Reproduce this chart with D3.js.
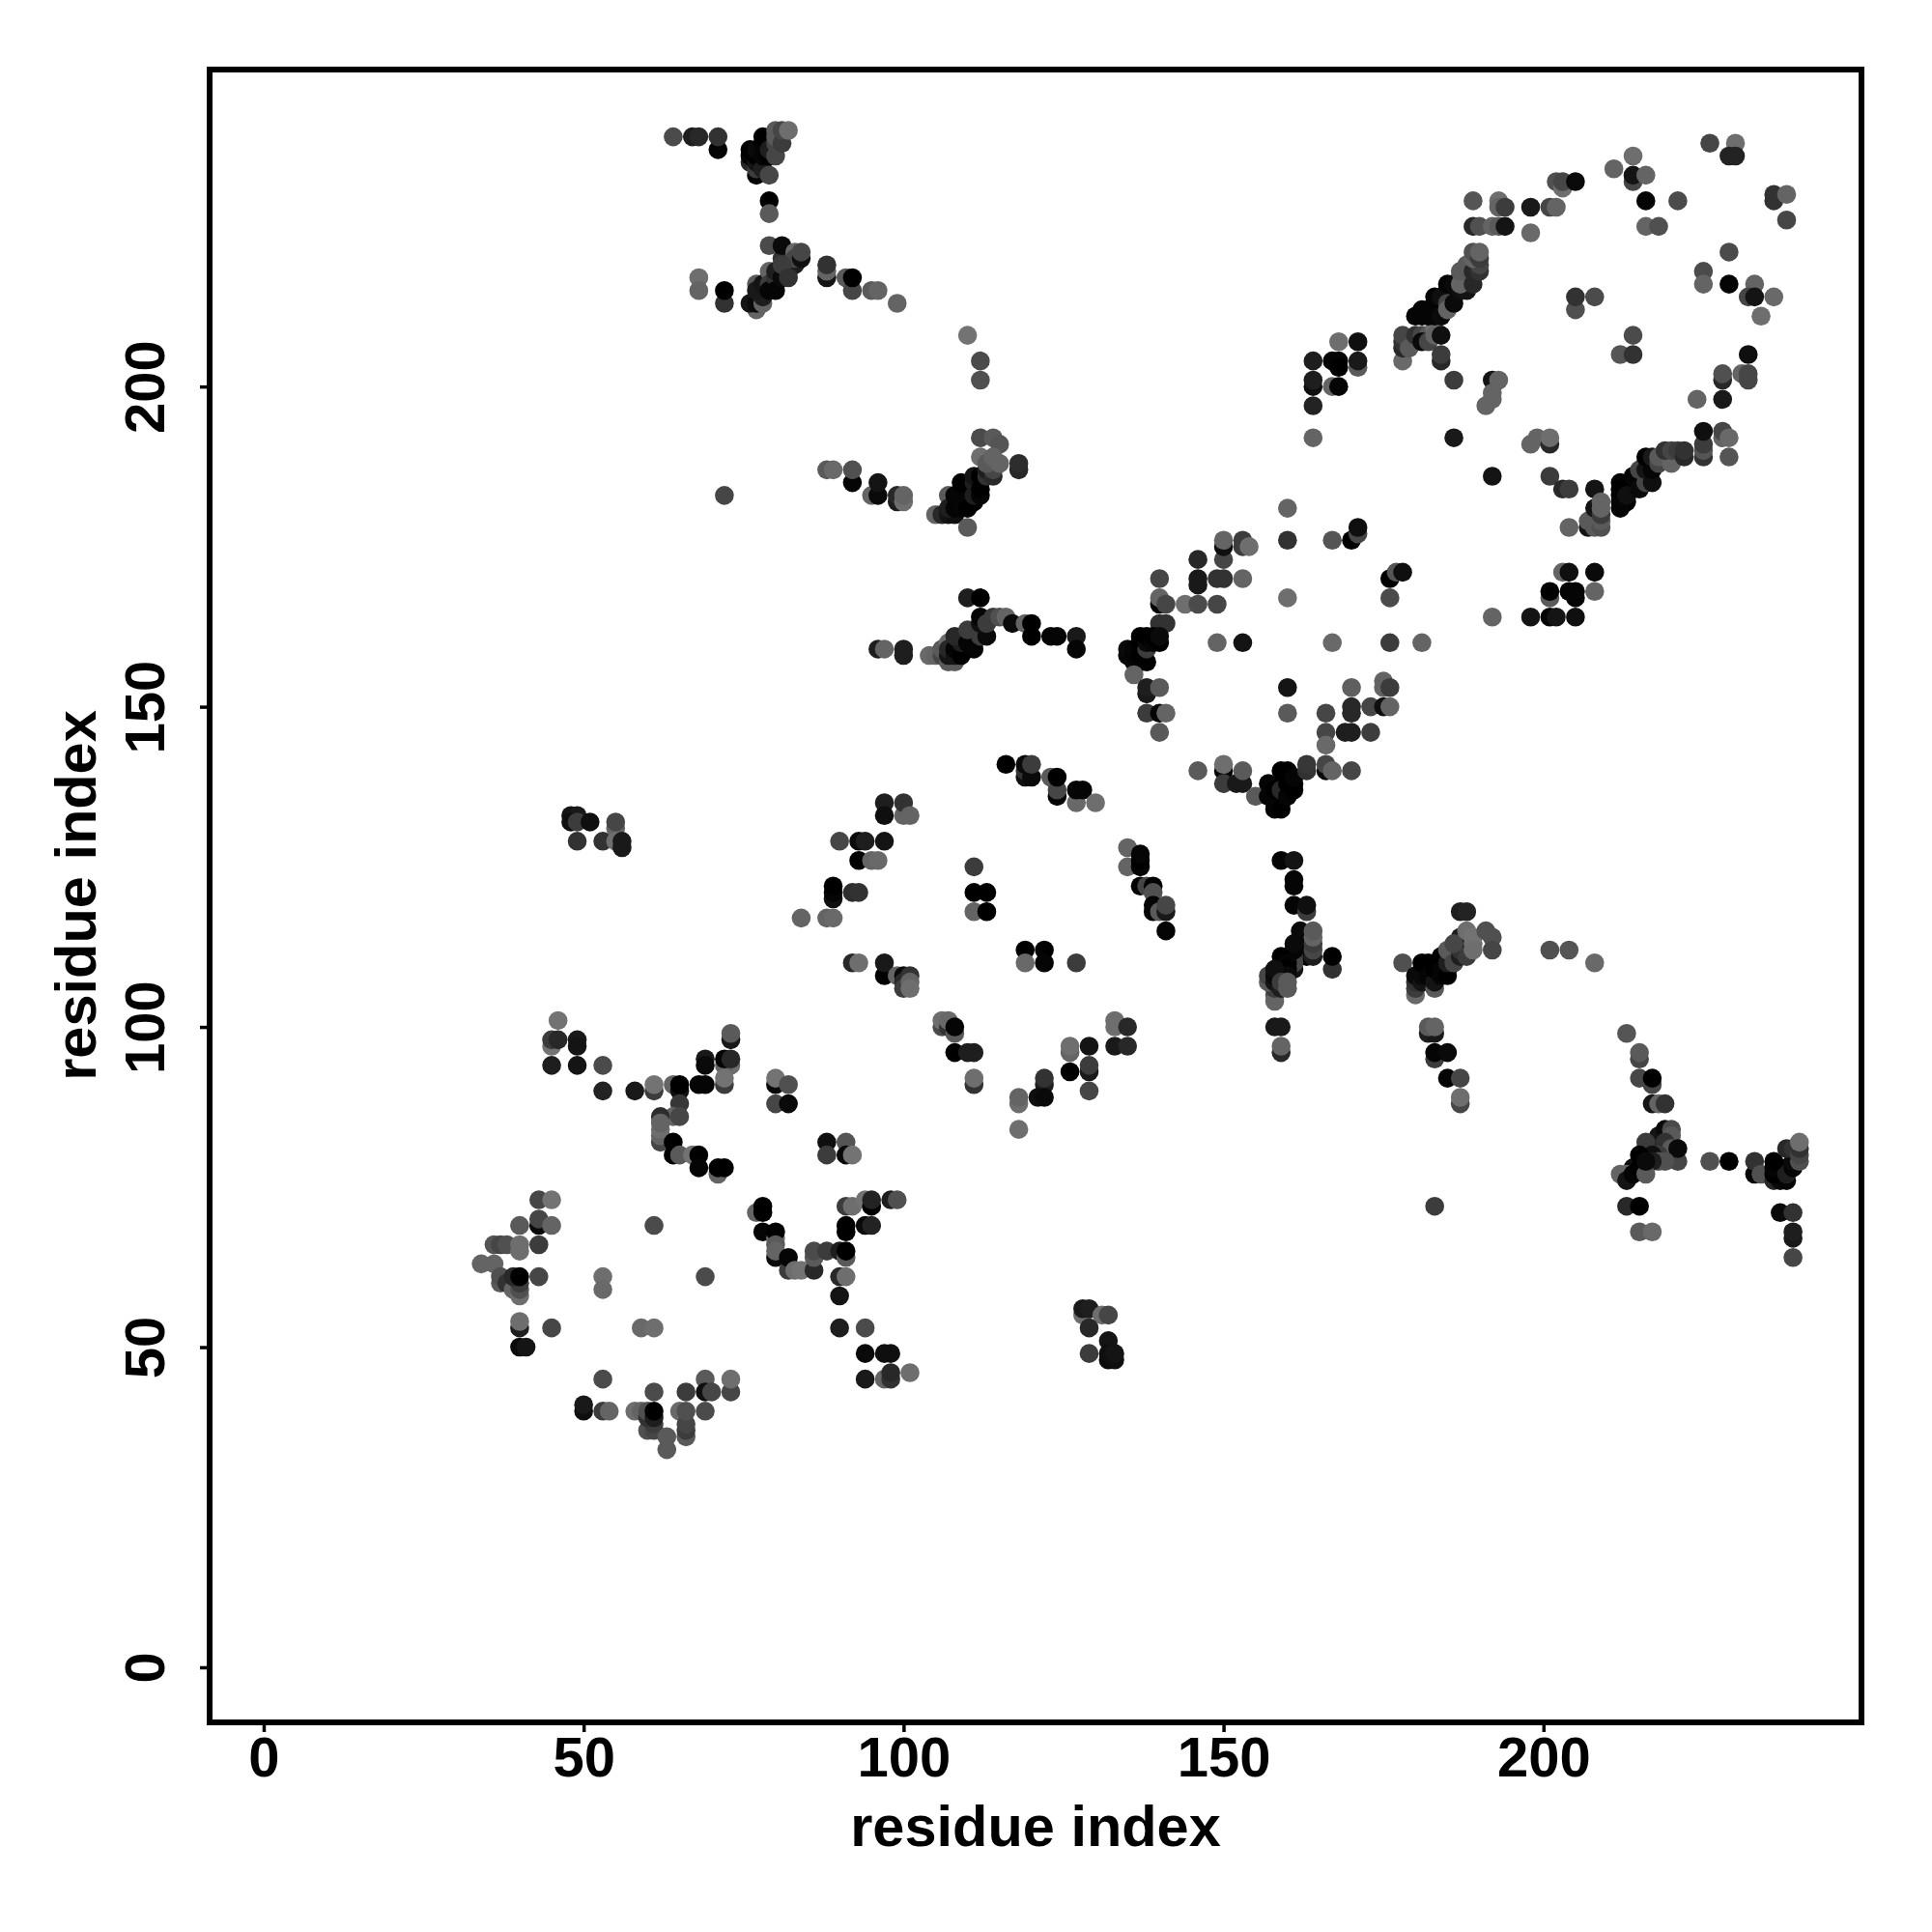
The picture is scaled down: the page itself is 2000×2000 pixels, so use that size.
<!DOCTYPE html>
<html><head><meta charset="utf-8">
<script src="https://cdn.jsdelivr.net/npm/d3@7"></script>
<style>html,body{margin:0;padding:0;background:#fff}svg{display:block}</style>
</head><body><svg id="c" width="2000" height="2000"></svg>
<script>
// each entry: [residue x, residue y, grey level]
const sheetLowLeft = [[46,101,115],[45,97,115],[45,98,60],[46,98,40],[49,98,25],[49,97,20],[45,94,30],[49,94,20],[53,94,75],[53,90,35],[58,90,25],[61,90,60],[61,91,115],[64,91,100],[65,90,15],[65,91,0],[68,91,5],[69,91,5],[65,88,55],[64,86,100],[65,86,70],[62,86,45],[62,82,70],[62,83,100],[62,84,110],[62,85,100],[64,80,0],[64,82,0],[65,80,90],[67,80,115],[68,80,0],[68,78,5],[71,77,100],[71,78,0],[72,78,0],[69,95,25],[69,94,10],[73,94,110],[72,94,100],[72,95,5],[73,95,40],[73,98,25],[73,99,90],[72,91,60],[72,92,115],[80,91,10],[80,92,115],[82,91,80],[80,88,70],[82,88,10],[88,82,15],[91,82,85],[88,80,60],[91,80,10],[92,80,115]];
const hairpinLow = [[77,71,100],[78,72,0],[78,71,0],[78,68,5],[80,67,110],[80,68,0],[80,64,10],[80,66,90],[80,65,100],[82,62,60],[82,64,5],[83,62,110],[84,62,115],[86,62,40],[86,64,90],[86,65,75],[88,65,60],[90,65,30],[91,64,90],[91,65,0],[90,61,40],[91,61,110],[90,58,20],[91,69,0],[91,68,0],[94,69,10],[95,69,35],[91,72,60],[92,72,110],[94,73,115],[95,72,0],[95,73,35],[98,73,30],[99,73,80]];
const leftPatch = [[43,73,70],[45,73,115],[40,69,90],[43,69,10],[43,70,70],[45,69,100],[36,66,85],[37,66,70],[38,66,80],[40,65,110],[40,66,110],[43,66,60],[34,63,100],[36,63,100],[37,60,90],[37,61,80],[38,60,50],[39,59,100],[40,58,110],[40,59,80],[40,60,60],[39,61,40],[40,61,0],[43,61,70],[40,53,30],[40,54,110],[45,53,70],[40,50,10],[41,50,20],[53,61,110],[53,59,105],[61,69,75],[69,61,75],[59,53,105],[61,53,110],[90,53,30],[94,53,75],[94,49,10],[97,49,15],[98,49,15],[94,45,25],[97,45,100],[98,45,50],[98,46,40],[101,46,110]];
const bottomPatch = [[53,45,75],[61,43,75],[66,43,60],[69,45,90],[69,43,15],[70,43,70],[73,43,70],[73,45,110],[50,40,15],[50,41,25],[53,40,60],[54,40,100],[58,40,110],[59,40,100],[60,37,80],[61,37,70],[61,38,60],[60,39,50],[60,40,80],[61,39,30],[61,40,0],[63,36,90],[63,34,90],[65,40,105],[66,36,90],[66,37,60],[66,38,70],[66,40,80],[69,40,75]];
const topLeftArm = [[64,239,75],[67,239,30],[68,239,40],[71,237,5],[71,239,50],[76,235,40],[76,236,5],[76,237,0],[77,233,5],[77,234,60],[77,235,20],[77,236,0],[77,237,10],[78,234,30],[78,236,5],[78,238,5],[78,239,0],[79,233,70],[79,236,0],[79,237,30],[80,236,70],[80,238,70],[80,239,90],[80,240,90],[81,238,60],[81,240,70],[82,240,110],[79,229,0],[79,227,90]];
const topLeftDiag = [[78,215,5],[79,217,10],[80,216,0],[81,218,20],[82,219,40],[83,219,30],[82,220,40],[81,220,50],[82,218,30],[79,222,75],[81,222,10],[83,221,105],[83,220,70],[84,220,15],[84,221,70],[77,212,100],[76,213,20],[77,213,10],[78,213,100],[78,214,30],[77,216,90],[77,215,25],[78,216,20],[79,218,100],[79,216,60],[79,215,5],[80,217,50],[80,218,30],[80,215,5],[81,217,10],[81,219,60],[82,217,50],[68,217,110],[68,215,100],[72,213,50],[72,215,0],[88,217,20],[88,218,100],[88,219,50],[91,217,90],[92,215,70],[92,217,0],[95,215,90],[96,215,100],[99,213,100],[110,208,115],[112,204,75],[112,201,80]];
const midUpper = [[109,183,0],[110,183,0],[110,184,0],[110,182,5],[109,182,5],[111,184,0],[111,182,0],[112,185,0],[72,183,70],[88,187,90],[89,187,105],[92,185,5],[92,187,80],[95,183,100],[96,183,10],[96,185,20],[99,182,30],[99,183,40],[100,182,110],[100,183,100],[105,180,100],[106,180,40],[107,180,20],[108,180,15],[110,178,90],[107,183,90],[108,182,60],[107,181,30],[108,181,5],[108,183,5],[109,181,5],[109,185,0],[110,181,0],[111,183,30],[111,185,30],[111,186,20],[112,183,5],[112,184,0],[112,186,0],[113,186,50],[113,187,30],[114,186,40],[114,187,70],[112,192,75],[114,192,90],[115,191,85],[112,189,110],[113,188,90],[114,189,100],[115,188,100],[118,187,40],[118,188,45]];
const midStrand = [[110,161,0],[111,160,0],[109,159,0],[110,159,0],[111,161,5],[96,159,30],[97,159,100],[100,158,30],[100,159,30],[104,158,105],[105,158,100],[106,158,70],[107,157,90],[108,157,90],[106,159,90],[107,160,110],[107,158,20],[107,159,40],[108,158,20],[108,159,5],[109,158,0],[109,160,30],[108,161,40],[110,160,5],[110,162,60],[111,159,5],[112,161,60],[113,161,10],[112,163,15],[112,164,5],[113,163,60],[114,164,60],[115,164,80],[116,164,100],[117,163,10],[119,163,100],[120,163,0],[120,161,0],[123,161,5],[124,161,5],[127,161,25],[127,159,5],[110,167,30],[112,167,0]];
const midCentre = [[116,141,0],[119,139,15],[119,140,50],[119,141,10],[120,139,10],[120,141,60],[123,139,90],[124,136,5],[124,137,70],[124,139,0],[127,135,105],[127,137,5],[128,137,5],[130,135,110],[97,135,30],[97,133,15],[100,133,100],[100,135,50],[101,133,100],[90,129,70],[93,129,10],[94,129,30],[97,129,20],[93,126,0],[95,126,100],[96,126,105],[89,120,15],[89,121,5],[89,122,0],[92,121,45],[93,121,50],[84,117,100],[88,117,100],[89,117,105],[111,125,60],[111,118,100],[111,121,0],[113,121,0],[113,118,0],[119,112,0],[122,112,0],[119,110,105],[122,110,5],[127,110,60]];
const midRight = [[135,128,100],[135,125,100],[137,125,5],[137,126,0],[137,127,5],[137,122,5],[138,122,70],[139,122,0],[139,121,80],[139,118,5],[139,119,5],[140,118,90],[141,118,25],[141,119,70],[141,115,5]];
const midLower = [[92,110,40],[93,110,110],[97,108,0],[97,110,25],[99,108,100],[100,108,10],[100,107,40],[100,106,60],[101,108,50],[101,107,100],[101,106,110],[106,100,75],[106,101,110],[107,100,50],[107,101,105],[108,99,90],[108,100,5],[108,96,0],[110,96,30],[111,96,30],[111,91,50],[111,92,110],[118,88,110],[118,89,100],[118,84,110],[122,91,30],[122,92,50],[121,89,15],[122,89,10],[126,96,100],[126,97,110],[126,93,0],[129,97,20],[129,93,25],[129,94,60],[129,90,70],[133,100,110],[133,101,110],[135,100,40],[133,97,25],[135,97,40]];
const lowerSmall = [[128,55,110],[128,56,25],[129,56,30],[131,55,110],[132,55,70],[129,53,40],[132,51,20],[129,49,60],[132,48,10],[132,49,15],[133,48,15],[133,49,20]];
const ringLeft = [[140,170,70],[140,166,5],[140,167,100],[141,166,70],[144,166,110],[146,166,75],[149,166,70],[146,173,40],[146,169,25],[146,170,25],[149,170,50],[150,170,50],[153,170,100],[150,173,70],[150,175,15],[150,176,100],[153,175,60],[153,176,60],[154,175,110],[140,163,50],[141,163,50],[135,158,5],[135,159,10],[136,157,10],[136,158,5],[136,159,5],[137,157,5],[137,158,0],[137,160,0],[137,161,0],[138,157,0],[138,159,60],[138,160,10],[138,161,0],[139,160,5],[139,161,0],[140,160,0],[140,161,10],[136,155,100],[138,152,25],[138,153,30],[140,153,90],[138,149,60],[140,149,5],[141,149,100],[140,146,90]];
const ringRest = [[160,181,100],[160,176,50],[167,176,85],[170,176,0],[171,177,70],[171,178,15],[176,170,0],[177,171,85],[178,171,15],[176,167,75],[160,167,110],[149,160,100],[153,160,20],[167,160,105],[176,160,60],[181,160,100],[160,153,20],[160,149,90],[170,153,95],[175,154,100],[175,153,100],[176,153,60],[166,149,70],[170,149,40],[170,150,40],[173,150,70],[175,150,15],[176,150,100],[166,146,70],[169,146,30],[170,146,30],[173,146,60],[166,144,105]];
const ringBottom = [[158,136,0],[159,135,0],[159,136,5],[160,137,5],[161,138,0],[160,139,0],[159,138,0],[146,140,90],[150,140,5],[150,141,110],[150,138,60],[152,138,25],[153,138,25],[153,140,90],[155,136,90],[157,136,5],[157,138,5],[158,134,5],[158,135,5],[158,137,0],[159,134,0],[159,137,40],[160,136,5],[160,138,0],[161,137,0],[159,140,0],[160,140,0],[161,139,5],[163,140,50],[163,141,55],[166,140,10],[166,141,70],[167,140,100],[170,140,70]];
const columnAt160 = [[159,126,5],[161,126,20],[161,122,5],[161,123,5],[161,119,5],[163,118,60],[163,119,15],[162,112,5],[162,114,5],[162,115,10],[163,111,5],[163,112,10],[164,111,30],[164,112,70],[164,113,60],[164,114,100],[164,115,90],[161,109,20],[161,111,50],[161,110,70],[161,112,5],[161,113,10],[159,111,0],[159,109,0],[160,110,5],[160,109,0],[160,108,10],[158,105,80],[158,104,100],[158,106,60],[157,107,90],[157,108,70],[158,107,20],[158,108,10],[158,109,15],[159,106,30],[159,107,60],[160,106,90],[160,107,90],[167,109,50],[167,111,0],[158,100,25],[159,100,25],[159,96,40],[159,97,100]];
const columnAt185 = [[182,109,5],[183,108,0],[184,110,0],[185,109,0],[182,110,0],[178,110,80],[180,105,105],[180,106,60],[180,107,50],[180,108,10],[181,107,20],[181,108,10],[181,110,0],[182,108,5],[183,106,90],[183,107,20],[183,109,0],[184,108,5],[184,109,5],[184,111,0],[185,108,0],[185,110,30],[185,112,90],[186,110,70],[187,111,30],[187,112,50],[187,113,20],[187,114,30],[186,113,70],[188,111,60],[187,118,30],[188,118,35],[188,115,110],[189,113,110],[189,114,115],[189,112,110],[191,115,80],[192,114,80],[192,112,70],[182,99,30],[183,99,25],[182,100,90],[183,100,100],[183,95,60],[183,96,5],[185,96,10],[185,92,5],[187,92,70],[187,88,70],[187,89,110],[183,72,60],[201,112,80],[204,112,85],[208,110,105]];
const rightPatch = [[214,78,10],[215,79,20],[216,80,20],[217,81,50],[218,81,70],[218,82,60],[219,83,50],[219,81,70],[218,83,20],[213,99,85],[215,95,70],[215,96,90],[215,92,70],[217,91,70],[217,92,0],[217,88,20],[218,88,100],[219,88,50],[219,84,10],[220,84,75],[220,83,90],[219,82,50],[220,81,90],[221,79,70],[221,81,10],[218,80,60],[216,81,50],[216,82,60],[217,80,15],[218,79,80],[219,79,80],[217,79,30],[215,80,0],[212,77,100],[213,77,100],[213,76,20],[214,77,5],[215,78,0],[216,77,90],[216,79,10],[226,79,80],[229,79,0],[213,72,40],[215,72,0],[215,68,90],[217,68,105]];
const rightEnd = [[233,77,5],[233,79,50],[234,77,80],[236,76,40],[237,76,10],[238,76,5],[236,77,0],[236,78,5],[237,78,5],[238,77,30],[236,79,0],[239,78,5],[239,79,10],[238,81,40],[239,81,50],[240,79,80],[240,80,70],[240,81,50],[240,82,110],[237,71,10],[239,71,50],[239,67,25],[239,68,30],[239,64,70]];
const upperRing = [[226,238,70],[230,238,110],[229,236,35],[230,236,35],[214,236,110],[211,234,100],[214,232,70],[214,233,20],[216,233,100],[216,229,5],[221,229,75],[216,225,100],[218,225,80],[202,232,80],[203,231,110],[203,232,70],[205,232,10],[198,228,25],[201,228,70],[202,228,100],[198,224,105],[189,229,85],[193,229,110],[193,228,100],[194,228,60],[189,225,40],[190,225,80],[192,225,100],[193,225,90],[194,225,20],[236,229,50],[236,230,50],[238,230,100],[238,226,70],[229,221,75],[225,218,75],[225,216,100],[229,216,5],[233,216,100],[232,214,70],[233,214,20],[236,214,105],[234,211,110],[205,212,80],[205,214,50],[208,214,75],[214,208,75],[212,205,85],[214,205,50],[232,205,15],[228,201,40],[228,202,80],[228,198,25],[224,198,100],[231,202,100],[232,201,70],[232,202,70]];
const upperDiag = [[181,211,0],[182,212,0],[183,212,0],[184,213,0],[185,214,0],[185,215,5],[186,215,5],[186,214,0],[184,212,0],[178,204,105],[178,206,40],[178,207,50],[178,208,70],[179,206,90],[180,208,50],[181,208,70],[182,208,90],[183,209,110],[181,207,10],[182,207,70],[183,208,100],[184,208,15],[184,204,40],[184,205,60],[186,201,60],[180,211,5],[181,212,5],[182,211,5],[183,211,5],[184,211,10],[183,214,5],[184,214,15],[185,213,70],[185,212,100],[185,216,5],[186,213,10],[186,216,10],[187,215,15],[187,217,20],[188,215,20],[187,216,100],[187,218,90],[188,219,90],[189,216,40],[189,218,40],[190,218,50],[190,219,70],[189,220,100],[189,221,80],[190,220,60],[190,221,100]];
const blockAt165 = [[168,207,110],[171,207,15],[164,204,30],[167,204,5],[168,204,5],[168,203,0],[171,203,90],[171,204,25],[164,200,15],[164,201,30],[167,200,100],[168,200,5],[164,197,35],[164,192,100],[186,192,25],[192,186,20],[201,186,60],[192,201,20],[193,201,100],[192,199,100],[192,198,100],[191,197,100]];
const lowerRing = [[212,183,0],[213,184,0],[213,182,0],[214,185,0],[214,184,0],[215,185,5],[215,186,5],[216,186,5],[216,188,5],[217,188,15],[212,185,5],[198,191,100],[199,192,100],[201,191,40],[201,192,110],[203,184,40],[204,184,60],[208,184,20],[204,178,100],[207,178,20],[207,179,90],[208,178,90],[208,181,20],[209,178,80],[209,179,90],[209,180,60],[209,181,100],[209,182,100],[212,181,5],[212,182,5],[212,184,0],[213,183,15],[214,186,5],[215,184,10],[215,187,70],[216,185,70],[216,187,20],[216,189,0],[217,185,15],[217,187,5],[217,189,25],[218,188,70],[218,189,90],[220,188,100],[219,190,50],[220,190,70],[221,190,60],[222,189,40],[222,190,50],[225,189,50],[225,190,85],[225,191,60],[225,193,15],[228,192,100],[228,193,70],[229,192,105],[229,189,85]];
const blockAt203 = [[203,171,100],[204,171,15],[208,171,10],[201,167,90],[201,168,0],[204,168,5],[205,167,5],[205,168,5],[208,168,100],[192,164,100],[198,164,20],[201,164,5],[202,164,20],[205,164,15]];
const sheetAt50 = [[48,133,20],[49,133,25],[48,132,15],[49,132,60],[51,132,15],[49,129,50],[53,129,50],[55,131,100],[55,132,70],[55,129,110],[56,129,25],[56,128,25]];
const tickValues = [0, 50, 100, 150, 200];
const axisLabel = "residue index";
const xDomain = [-8.45, 249.7], yDomain = [-8.6, 249.5];

const clusters = [sheetLowLeft, hairpinLow, leftPatch, bottomPatch, topLeftArm, topLeftDiag, midUpper, midStrand, midCentre, midRight, midLower, lowerSmall, ringLeft, ringRest, ringBottom, columnAt160, columnAt185, rightPatch, rightEnd, upperRing, upperDiag, blockAt165, lowerRing, blockAt203, sheetAt50];
const points = clusters.flat();

const plot = {left: 217, right: 1927, top: 72, bottom: 1783};
const x = d3.scaleLinear().domain(xDomain).range([plot.left, plot.right]);
const y = d3.scaleLinear().domain(yDomain).range([plot.bottom, plot.top]);
const svg = d3.select("#c");
const font = "'Liberation Sans', Arial, sans-serif";

svg.append("g").selectAll("circle").data(points).join("circle")
  .attr("cx", d => x(d[0])).attr("cy", d => y(d[1])).attr("r", 9.8)
  .attr("fill", d => d3.rgb(d[2], d[2], d[2]));

svg.append("rect").attr("x", plot.left).attr("y", plot.top).attr("width", plot.right - plot.left).attr("height", plot.bottom - plot.top)
  .attr("fill", "none").attr("stroke", "#000").attr("stroke-width", 6);

const gx = svg.append("g").attr("transform", `translate(0,${plot.bottom})`)
  .call(d3.axisBottom(x).tickValues(tickValues).tickSize(10).tickPadding(5).tickFormat(d3.format("d")));
const gy = svg.append("g").attr("transform", `translate(${plot.left},0)`)
  .call(d3.axisLeft(y).tickValues(tickValues).tickSize(10).tickFormat(d3.format("d")));
[gx, gy].forEach(g => { g.select(".domain").remove(); g.selectAll("line").attr("stroke", "#000").attr("stroke-width", 3.5); });
gx.selectAll("text").attr("font-family", font).attr("font-weight", 700).attr("font-size", 58).attr("fill", "#000");
gy.selectAll("text").attr("font-family", font).attr("font-weight", 700).attr("font-size", 58).attr("fill", "#000")
  .attr("text-anchor", "middle").attr("dy", 0).attr("x", 0)
  .attr("transform", `translate(${170 - plot.left},0) rotate(-90)`);

svg.append("text").attr("x", 1072).attr("y", 1911).attr("text-anchor", "middle")
  .attr("font-family", font).attr("font-weight", 700).attr("font-size", 59.5).text(axisLabel);
svg.append("text").attr("transform", "translate(99,927) rotate(-90)").attr("text-anchor", "middle")
  .attr("font-family", font).attr("font-weight", 700).attr("font-size", 59.5).text(axisLabel);
</script></body></html>
